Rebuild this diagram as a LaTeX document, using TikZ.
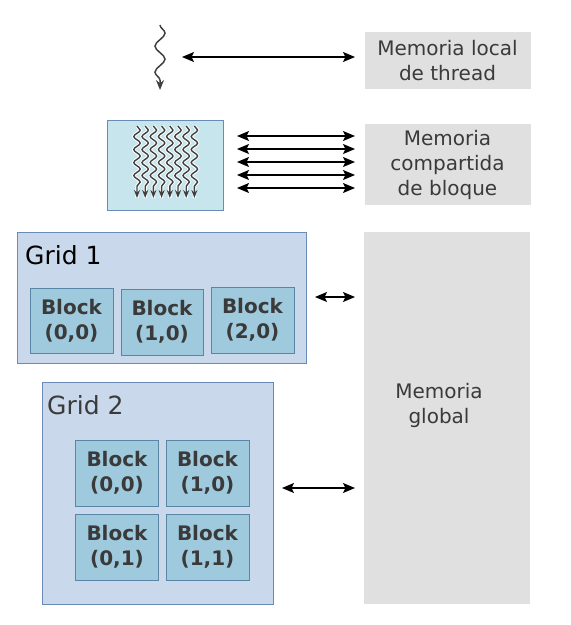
\documentclass[tikz,border=0pt]{standalone}
\usepackage{fontspec}
\setmainfont{DejaVu Sans}
\usetikzlibrary{arrows.meta,decorations.pathmorphing}
\definecolor{memgray}{HTML}{E0E0E0}
\definecolor{gridfill}{HTML}{C9D8EB}
\definecolor{gridline}{HTML}{6A8BB6}
\definecolor{blockfill}{HTML}{9FC9DC}
\definecolor{blockline}{HTML}{5A86A6}
\definecolor{thrfill}{HTML}{C7E5EC}
\definecolor{txtgray}{HTML}{3A3A3A}
\tikzset{
  membox/.style={fill=memgray, draw=none, text=txtgray, align=center,
    font=\fontsize{20}{25}\selectfont, inner sep=0pt},
  gridbox/.style={fill=gridfill, draw=gridline, line width=0.9pt, inner sep=0pt},
  blockbox/.style={fill=blockfill, draw=blockline, line width=0.9pt, text=txtgray,
    align=center, font=\fontsize{20}{25}\bfseries\selectfont, inner sep=0pt},
  gridlabel/.style={anchor=west, font=\fontsize{25}{28}\selectfont, inner sep=0pt},
  dblarrow/.style={{Stealth[length=12pt,width=10pt,inset=2.5pt]}-{Stealth[length=12pt,width=10pt,inset=2.5pt]}, line width=1.1pt},
  thread/.style={draw=black!75, line width=1.5pt, decorate,
    decoration={snake, amplitude=5pt, segment length=26pt, post length=9pt},
    -{Stealth[length=10pt,width=8pt]}},
  minithread/.style={draw=black!75, line width=1.4pt, decorate,
    decoration={snake, amplitude=3.2pt, segment length=13pt, post length=7pt},
    -{Stealth[length=8pt,width=6pt]}},
}
\begin{document}
\begin{tikzpicture}[x=1pt,y=-1pt]
\useasboundingbox (0,0) rectangle (571,625);
% memory boxes
\node[membox, minimum width=166pt, minimum height=57pt] (mlocal) at (447.5,60.5) {Memoria local\\de thread};
\node[membox, minimum width=166pt, minimum height=81pt] (mshared) at (447.5,164.5) {Memoria\\compartida\\de bloque};
\node[membox, minimum width=166pt, minimum height=372pt] (mglobal) at (447,418) {};
\node[text=txtgray, align=center, font=\fontsize{20}{25}\selectfont] (mgtext) at (439,405) {Memoria\\global};
% single thread
\coordinate (t1a) at (160,25);
\coordinate (t1b) at (160,90);
\draw[thread] (t1a) -- (t1b);
\coordinate (a1l) at (182,57);
\coordinate (a1r) at (355,57);
\draw[dblarrow] (a1l) -- (a1r);
% thread block
\node[fill=thrfill, draw=gridline, line width=0.9pt, minimum width=116pt, minimum height=90pt, inner sep=0pt] (tblock) at (165,165) {};
\foreach \i in {0,...,7}{
  \coordinate (mt\i a) at ({137+8.2*\i},126);
  \coordinate (mt\i b) at ({137+8.2*\i},198);
  \draw[white, line width=3.4pt, decorate, decoration={snake, amplitude=3.2pt, segment length=13pt, post length=7pt}] (mt\i a) -- (mt\i b);
}
\foreach \i in {0,...,7}{
  \draw[minithread] (mt\i a) -- (mt\i b);
}
\foreach \y [count=\k] in {136,149,162,175,188}{
  \coordinate (sl\k) at (237,\y);
  \coordinate (sr\k) at (355,\y);
  \draw[dblarrow] (sl\k) -- (sr\k);
}
% grid 1
\node[gridbox, minimum width=289pt, minimum height=131pt] (grid1) at (161.5,297.5) {};
\node[gridlabel] (g1lab) at (25,255) {Grid 1};
\node[blockbox, minimum width=83pt, minimum height=65pt] (b10) at (71.5,320.5) {Block\\(0,0)};
\node[blockbox, minimum width=82pt, minimum height=66pt] (b11) at (162,322) {Block\\(1,0)};
\node[blockbox, minimum width=83pt, minimum height=66pt] (b12) at (252.5,320) {Block\\(2,0)};
\coordinate (g1l) at (315,297);
\coordinate (g1r) at (355,297);
\draw[dblarrow] (g1l) -- (g1r);
% grid 2
\node[gridbox, minimum width=231pt, minimum height=222pt] (grid2) at (157.5,493) {};
\node[gridlabel, text=txtgray] (g2lab) at (47,405) {Grid 2};
\node[blockbox, minimum width=83pt, minimum height=66pt] (c00) at (117,473) {Block\\(0,0)};
\node[blockbox, minimum width=83pt, minimum height=66pt] (c10) at (207.5,473) {Block\\(1,0)};
\node[blockbox, minimum width=83pt, minimum height=66pt] (c01) at (117,547) {Block\\(0,1)};
\node[blockbox, minimum width=83pt, minimum height=66pt] (c11) at (207.5,547) {Block\\(1,1)};
\coordinate (g2l) at (282,488);
\coordinate (g2r) at (355,488);
\draw[dblarrow] (g2l) -- (g2r);
\end{tikzpicture}
\end{document}
